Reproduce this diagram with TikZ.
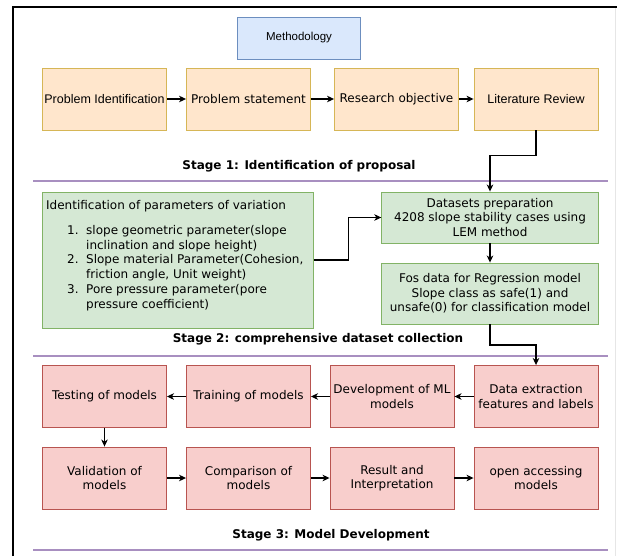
\documentclass[tikz,border=0pt]{standalone}
\usepackage{fontspec}
\setmainfont{DejaVu Sans}
\newfontfamily\arialf{Liberation Sans}
\usetikzlibrary{arrows.meta}
\definecolor{bfill}{HTML}{DAE8FC}
\definecolor{bstroke}{HTML}{6C8EBF}
\definecolor{ofill}{HTML}{FFE6CC}
\definecolor{ostroke}{HTML}{D6B656}
\definecolor{gfill}{HTML}{D5E8D4}
\definecolor{gstroke}{HTML}{82B366}
\definecolor{rfill}{HTML}{F8CECC}
\definecolor{rstroke}{HTML}{B85450}
\definecolor{sepcol}{HTML}{A88FC0}
\definecolor{faint}{HTML}{E6E6E6}
\begin{document}
\begin{tikzpicture}[x=1pt,y=-1pt,
  box/.style={draw, line width=0.9pt, inner sep=2pt, align=center,
    font=\fontsize{12}{14.5}\selectfont},
  bluebox/.style={box, fill=bfill, draw=bstroke},
  obox/.style={box, fill=ofill, draw=ostroke, minimum width=124pt, minimum height=62pt},
  gbox/.style={box, fill=gfill, draw=gstroke},
  rbox/.style={box, fill=rfill, draw=rstroke, minimum width=124pt, minimum height=62pt},
  arialtxt/.style={font=\arialf\fontsize{12.5}{15}\selectfont},
  stagelbl/.style={inner sep=1pt, font=\bfseries\fontsize{12}{14}\selectfont},
  sepline/.style={draw=sepcol, line width=2.6pt},
  arr/.style={-{Stealth[length=7pt,width=6.5pt,inset=2pt]}, line width=1.1pt}
]
\useasboundingbox (0,0) rectangle (617,556);
% outer frame
\draw[faint, line width=0.8pt] (615,7) -- (615,556);
\draw[line width=1.3pt] (13,556) -- (13,7) -- (617,7);

% separator lines
\draw[sepline] (33,181) -- (608,181);
\draw[sepline] (33,356) -- (608,356);
\draw[sepline] (33,550) -- (608,550);

% Stage 1
\node[bluebox, minimum width=123pt, minimum height=42pt,
  font=\arialf\fontsize{11.5}{14}\selectfont] (meth) at (299,38) {Methodology};
\node[obox, arialtxt] (p1) at (104.5,99) {Problem Identification};
\node[obox] (p2) at (248.5,99) {Problem statement};
\node[obox] (p3) at (396.5,99) {Research objective};
\node[obox, arialtxt] (p4) at (536,99) {Literature Review};
\node[stagelbl] (s1) at (299,166) {Stage 1: Identification of proposal};

% Stage 2
\node[gbox, minimum width=271pt, minimum height=136pt] (gparam) at (178,260) {};
\node[anchor=north west, inner sep=0pt, align=left,
  font=\fontsize{12}{14.7}\selectfont] (gtext) at (46,200.5)
  {Identification of parameters of variation\\[10pt]
   \makebox[40pt][l]{\hspace{21pt}1.}slope geometric parameter(slope\\
   \hspace*{40pt}inclination and slope height)\\
   \makebox[40pt][l]{\hspace{21pt}2.}Slope material Parameter(Cohesion,\\
   \hspace*{40pt}friction angle, Unit weight)\\
   \makebox[40pt][l]{\hspace{21pt}3.}Pore pressure parameter(pore\\
   \hspace*{40pt}pressure coefficient)};
\node[gbox, minimum width=216.5pt, minimum height=51pt] (ds) at (490,217.5)
  {Datasets preparation\\4208 slope stability cases using\\LEM method};
\node[gbox, minimum width=216.5pt, minimum height=61pt] (fos) at (490,293.5)
  {Fos data for Regression model\\Slope class as safe(1) and\\unsafe(0) for classification model};
\node[stagelbl] (s2) at (318,339) {Stage 2: comprehensive dataset collection};

% Stage 3
\node[rbox] (test) at (104.5,396.5) {Testing of models};
\node[rbox] (train) at (248.5,396.5) {Training of models};
\node[rbox] (dev) at (392,396.5) {Development of ML\\models};
\node[rbox] (dext) at (536,396.5) {Data extraction\\features and labels};
\node[rbox] (val) at (104.5,478) {Validation of\\models};
\node[rbox] (comp) at (248.5,478) {Comparison of\\models};
\node[rbox] (res) at (392,478) {Result and\\Interpretation};
\node[rbox] (open) at (536,478) {open accessing\\models};
\node[stagelbl] (s3) at (331,535) {Stage 3: Model Development};

% connectors
\draw[arr] (p1) -- (p2);
\draw[arr] (p2) -- (p3);
\draw[arr] (p3) -- (p4);
\draw[arr] (p4.south) -- ++(0,25) -| (ds.north);
\draw[arr] (gparam.east) -- ++(34.5,0) |- (ds.west);
\draw[arr] (ds) -- (fos);
\draw[arr] (fos.south) -- ++(0,20.5) -| (dext.north);
\draw[arr] (dext) -- (dev);
\draw[arr] (dev) -- (train);
\draw[arr] (train) -- (test);
\draw[arr] (test) -- (val);
\draw[arr] (val) -- (comp);
\draw[arr] (comp) -- (res);
\draw[arr] (res) -- (open);
\end{tikzpicture}
\end{document}
